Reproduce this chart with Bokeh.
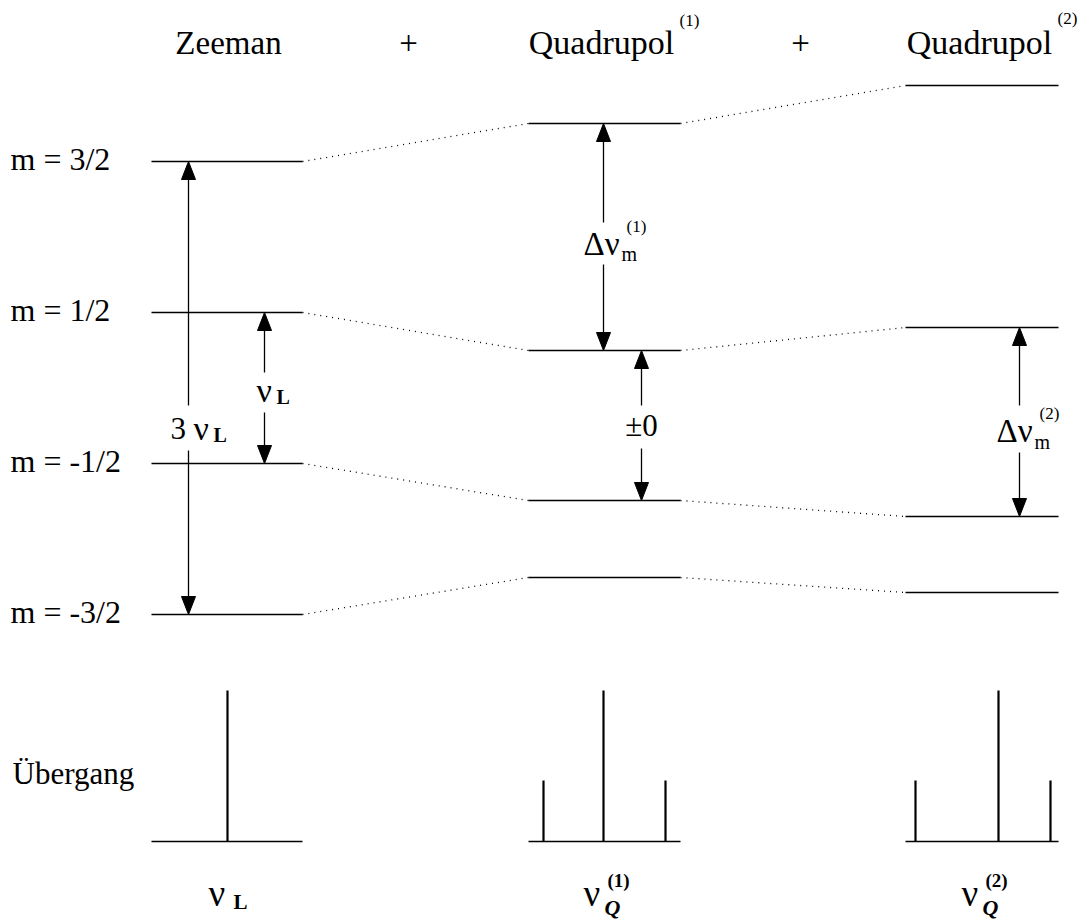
from bokeh.plotting import figure
from bokeh.models import Range1d
from bokeh.core.properties import value
from bokeh.embed import file_html
from bokeh.resources import INLINE

# ---- data (diagram units: x = horizontal position, y = energy, upward) ----
m_labels = ["m = 3/2", "m = 1/2", "m = -1/2", "m = -3/2"]
zeeman_levels = [759, 608, 457, 306]
quad1_levels = [797, 570, 420, 343]
quad2_levels = [835, 593, 404, 328]
col_left = [151, 528, 905]
col_right = [302, 680, 1058]
titles = ["Zeeman", "Quadrupol", "Quadrupol"]
title_sup = ["", "(1)", "(2)"]

spec_base = 79
zeeman_peak_x = [227]
zeeman_peak_top = [230]
quad1_peak_x = [543, 603, 665]
quad1_peak_top = [140, 230, 140]
quad2_peak_x = [915, 998, 1050]
quad2_peak_top = [140, 230, 140]

# arrows: column, upper level index, lower level index, x, label gap (upper, lower)
arrow_col = [0, 0, 1, 1, 2]
arrow_hi = [0, 1, 0, 1, 1]
arrow_lo = [3, 2, 1, 2, 2]
arrow_x = [188, 264, 603, 641, 1019]
gap_hi = [515, 548, 698, 515, 515]
gap_lo = [470, 508, 656, 472, 468]

p = figure(width=1081, height=920, x_range=Range1d(0, 1081), y_range=Range1d(0, 920),
           output_backend="svg", toolbar_location=None, min_border=0)
# keep axes present but empty
p.axis.axis_line_color = None
p.axis.major_tick_line_color = None
p.axis.minor_tick_line_color = None
p.axis.major_tick_out = 0
p.axis.major_tick_in = 0
p.axis.minor_tick_out = 0
p.axis.minor_tick_in = 0
p.axis.major_label_standoff = 0
p.axis.major_label_text_font_size = "0px"
p.axis.major_label_text_color = None
p.grid.grid_line_color = None
p.outline_line_color = None

all_levels = [zeeman_levels, quad1_levels, quad2_levels]

# levels
for c, lev in enumerate(all_levels):
    p.segment(x0=[col_left[c]] * len(lev), x1=[col_right[c]] * len(lev),
              y0=lev, y1=lev, line_color="black", line_width=1.5)

# dotted connectors
for c in range(2):
    p.segment(x0=[col_right[c]] * 4, x1=[col_left[c + 1]] * 4,
              y0=all_levels[c], y1=all_levels[c + 1],
              line_color="black", line_width=1.3, line_dash="1 5")

# spectra
for c in range(3):
    p.segment(x0=[col_left[c]], x1=[col_right[c]], y0=[spec_base], y1=[spec_base],
              line_color="black", line_width=1.5)
for xs, tops in [(zeeman_peak_x, zeeman_peak_top), (quad1_peak_x, quad1_peak_top),
                 (quad2_peak_x, quad2_peak_top)]:
    p.segment(x0=xs, x1=xs, y0=[spec_base] * len(xs), y1=tops,
              line_color="black", line_width=2.2)

# arrows (split around labels): shafts as segments, heads as triangles
HEAD_L, HEAD_W = 18, 7
sx0, sx1, sy0, sy1 = [], [], [], []
hx, hy = [], []
for i in range(len(arrow_x)):
    lev = all_levels[arrow_col[i]]
    x = arrow_x[i]
    for (ys, ye, d) in [(gap_hi[i], lev[arrow_hi[i]], 1), (gap_lo[i], lev[arrow_lo[i]], -1)]:
        sx0.append(x); sx1.append(x); sy0.append(ys); sy1.append(ye - d * HEAD_L)
        hx.append([x, x - HEAD_W, x + HEAD_W])
        hy.append([ye, ye - d * HEAD_L, ye - d * HEAD_L])
p.segment(x0=sx0, x1=sx1, y0=sy0, y1=sy1, line_color="black", line_width=1.3)
p.patches(xs=hx, ys=hy, fill_color="black", line_color="black", line_width=1)


def txt(x, y, t, size, align="left", style=None):
    kw = {}
    if style:
        kw["text_font_style"] = style
    p.text(x=[x], y=[y], text=[t], text_font=value("Liberation Serif"),
           text_font_size=f"{size}px", text_align=align, text_baseline="middle",
           text_color="black", **kw)


# titles
txt(228, 878, titles[0], 33, "center")
txt(601, 878, titles[1], 34, "center")
txt(979, 878, titles[2], 34, "center")
txt(679, 900, title_sup[1], 17)
txt(1057, 902, title_sup[2], 17)
txt(408, 878, "+", 33, "center")
txt(800, 878, "+", 33, "center")

# m labels
for t, y in zip(m_labels, zeeman_levels):
    txt(10, y + 3, t, 32)
txt(12, 147, "Übergang", 31)

# arrow labels
txt(170, 492, "3", 31)
txt(193, 492, "ν", 34)
txt(213, 486, "L", 20, style="bold")
txt(256, 530, "ν", 34)
txt(276, 524, "L", 20, style="bold")
txt(583, 677, "Δν", 33)
txt(621, 667, "m", 20)
txt(626, 694, "(1)", 17)
txt(641, 495, "±0", 31, "center")
txt(996, 490, "Δν", 33)
txt(1034, 479, "m", 20)
txt(1039, 507, "(2)", 17)

# bottom labels
txt(208, 27, "ν", 37)
txt(233, 19, "L", 21, style="bold")
txt(583, 27, "ν", 37)
txt(604, 13, "Q", 22, style="bold italic")
txt(607, 40, "(1)", 19, style="bold")
txt(961, 27, "ν", 37)
txt(982, 13, "Q", 22, style="bold italic")
txt(985, 40, "(2)", 19, style="bold")

open("out.html", "w").write(file_html(p, INLINE))
